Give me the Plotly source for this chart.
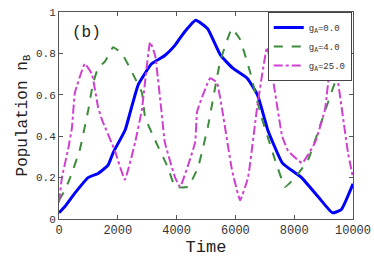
import plotly.graph_objects as go

# g_A = 0.0 (blue, solid)
t_g0 = [0, 200, 540, 990, 1330, 1670, 1840, 2250, 2450, 2700, 3150, 3600, 3950, 4250, 4650, 5050, 5500, 5900, 6400, 6750, 7000, 7100, 7600, 8250, 8800, 9300, 9600, 10000]
n_g0 = [0.03, 0.06, 0.125, 0.20, 0.22, 0.26, 0.32, 0.43, 0.53, 0.65, 0.75, 0.79, 0.84, 0.90, 0.96, 0.92, 0.79, 0.73, 0.68, 0.60, 0.48, 0.43, 0.27, 0.20, 0.11, 0.03, 0.045, 0.17]

# g_A = 4.0 (green, dashed)
t_g4 = [0, 200, 380, 700, 1000, 1150, 1330, 1560, 1840, 2140, 2480, 2820, 2930, 3270, 3700, 3950, 4390, 4730, 5070, 5480, 5880, 6150, 6500, 6870, 7350, 7690, 8030, 8470, 8950, 9390, 10000]
n_g4 = [0.09, 0.14, 0.20, 0.33, 0.53, 0.65, 0.73, 0.76, 0.83, 0.80, 0.71, 0.61, 0.49, 0.38, 0.25, 0.155, 0.155, 0.25, 0.45, 0.76, 0.92, 0.87, 0.71, 0.50, 0.285, 0.155, 0.20, 0.285, 0.48, 0.66, 0.82]

# g_A = 25.0 (magenta, dash-dot)
t_g25 = [0, 100, 300, 440, 540, 880, 1120, 1330, 1460, 1900, 2240, 2590, 2820, 3100, 3270, 3500, 3600, 3950, 4120, 4630, 4700, 5140, 5370, 5560, 5880, 6160, 6430, 6740, 7080, 7590, 7790, 8270, 8710, 9050, 9300, 9830, 10000]
n_g25 = [0.08, 0.2, 0.33, 0.44, 0.61, 0.75, 0.70, 0.54, 0.48, 0.33, 0.19, 0.37, 0.53, 0.855, 0.79, 0.50, 0.37, 0.20, 0.155, 0.37, 0.52, 0.68, 0.66, 0.52, 0.24, 0.09, 0.20, 0.54, 0.83, 0.40, 0.33, 0.27, 0.37, 0.53, 0.83, 0.32, 0.2]

x_ticks = [0, 2000, 4000, 6000, 8000, 10000]
x_tick_text = ["0", "2000", "4000", "6000", "8000", "10000"]
y_ticks = [0, 0.2, 0.4, 0.6, 0.8, 1]
y_tick_text = ["0", "0.2", "0.4", "0.6", "0.8", "1"]

FONT = "Liberation Mono, Courier New, monospace"

fig = go.Figure()
fig.add_trace(go.Scatter(x=t_g0, y=n_g0, mode="lines", name="g<sub>A</sub>=0.0",
                         line=dict(color="#0000ff", width=3, shape="spline", smoothing=0.4)))
fig.add_trace(go.Scatter(x=t_g4, y=n_g4, mode="lines", name="g<sub>A</sub>=4.0",
                         line=dict(color="#3c8c3c", width=2, dash="dash", shape="spline", smoothing=0.3)))
fig.add_trace(go.Scatter(x=t_g25, y=n_g25, mode="lines", name="g<sub>A</sub>=25.0",
                         line=dict(color="#d040d0", width=2, dash="dashdot", shape="spline", smoothing=0.3)))

axis_common = dict(showline=True, linecolor="#555555", linewidth=1, mirror="allticks",
                   ticks="inside", ticklen=4, tickcolor="#555555", showgrid=False, zeroline=False,
                   automargin=False)

fig.update_layout(
    width=374, height=258,
    margin=dict(l=59, r=21, t=12, b=39),
    paper_bgcolor="white", plot_bgcolor="white",
    showlegend=True,
    legend=dict(x=0.71, y=1.0, xanchor="left", yanchor="top",
                bgcolor="white", bordercolor="#444444", borderwidth=1,
                font=dict(family=FONT, size=9, color="#333333"),
                tracegroupgap=0, itemwidth=30),
    xaxis=dict(range=[0, 10000], tickvals=x_ticks, ticktext=x_tick_text,
               tickfont=dict(family=FONT, size=12, color="#333333"),
               title=dict(text="Time", font=dict(family=FONT, size=17, color="#222222"), standoff=2),
               **axis_common),
    yaxis=dict(range=[0, 1], tickvals=y_ticks, ticktext=y_tick_text,
               tickfont=dict(family=FONT, size=11, color="#333333"),
               title=dict(text="Population n<sub>B</sub>", font=dict(family=FONT, size=16, color="#222222"), standoff=4),
               **axis_common),
    annotations=[dict(text="(b)", x=0.038, y=0.95, xref="paper", yref="paper",
                      xanchor="left", yanchor="top", showarrow=False,
                      font=dict(family=FONT, size=16, color="#222222"))],
)

fig.write_html("out.html", config={"displayModeBar": False},
               post_script="document.body.style.margin='0';document.body.style.overflow='hidden';")
